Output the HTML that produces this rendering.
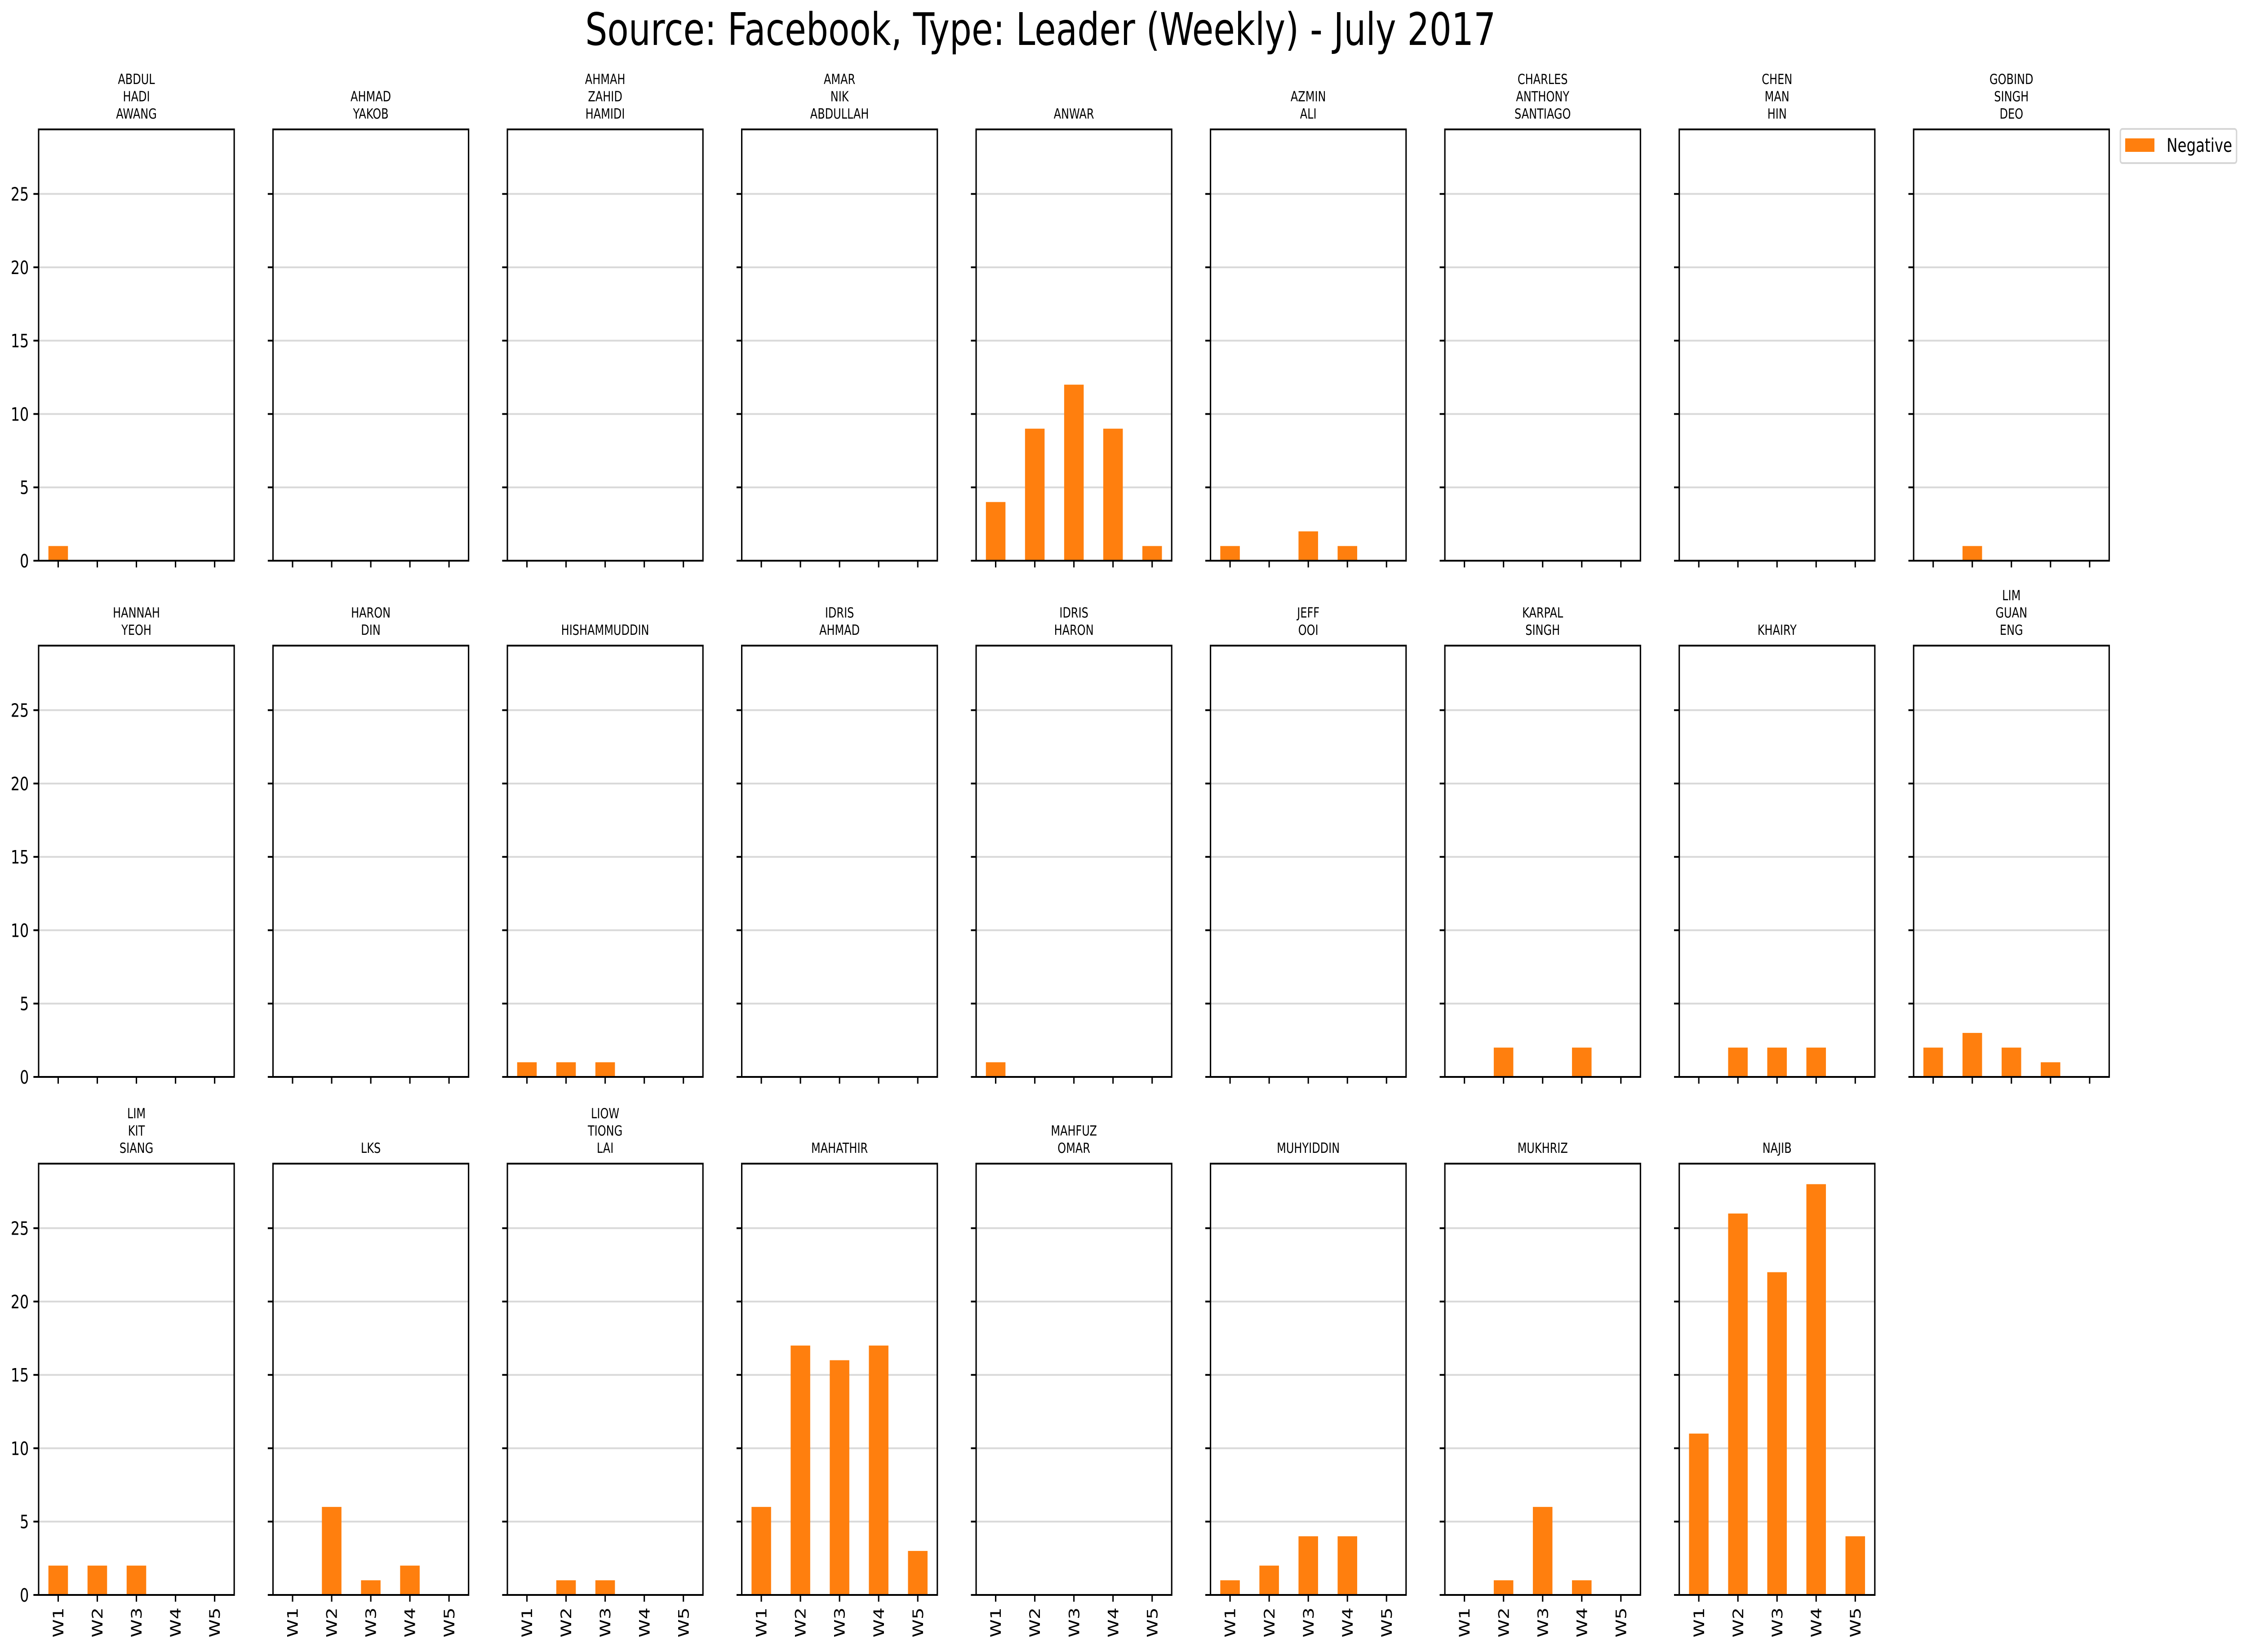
<!DOCTYPE html>
<html><head><meta charset="utf-8">
<style>
html,body{margin:0;padding:0;background:#fff;overflow:hidden;width:100%;height:100%;}
svg{display:block;width:100vw;height:100vh;font-family:"DejaVu Sans","Liberation Sans",sans-serif;}
</style></head>
<body>
<svg id="chart" viewBox="0 0 6457 3677" preserveAspectRatio="none" xmlns="http://www.w3.org/2000/svg">
<text x="2990" y="100" font-size="100" text-anchor="middle">Source: Facebook, Type: Leader (Weekly) - July 2017</text>
<g>
<rect x="6093" y="287" width="334" height="76" rx="6" fill="#fff" stroke="#d6d6d6" stroke-width="4"/>
<rect x="6107" y="308" width="84" height="30" fill="#ff7f0e"/>
<text x="6226" y="338" font-size="42">Negative</text>
</g>
</svg>
<script>
const names = [["ABDUL","HADI","AWANG"],["AHMAD","YAKOB"],["AHMAH","ZAHID","HAMIDI"],["AMAR","NIK","ABDULLAH"],["ANWAR"],["AZMIN","ALI"],["CHARLES","ANTHONY","SANTIAGO"],["CHEN","MAN","HIN"],["GOBIND","SINGH","DEO"],
["HANNAH","YEOH"],["HARON","DIN"],["HISHAMMUDDIN"],["IDRIS","AHMAD"],["IDRIS","HARON"],["JEFF","OOI"],["KARPAL","SINGH"],["KHAIRY"],["LIM","GUAN","ENG"],
["LIM","KIT","SIANG"],["LKS"],["LIOW","TIONG","LAI"],["MAHATHIR"],["MAHFUZ","OMAR"],["MUHYIDDIN"],["MUKHRIZ"],["NAJIB"]];
const weeks = ["W1","W2","W3","W4","W5"];
const negative = [
[1,0,0,0,0],[0,0,0,0,0],[0,0,0,0,0],[0,0,0,0,0],[4,9,12,9,1],[1,0,2,1,0],[0,0,0,0,0],[0,0,0,0,0],[0,1,0,0,0],
[0,0,0,0,0],[0,0,0,0,0],[1,1,1,0,0],[0,0,0,0,0],[1,0,0,0,0],[0,0,0,0,0],[0,2,0,2,0],[0,2,2,2,0],[2,3,2,1,0],
[2,2,2,0,0],[0,6,1,2,0],[0,1,1,0,0],[6,17,16,17,3],[0,0,0,0,0],[1,2,4,4,0],[0,1,6,1,0],[11,26,22,28,4]];
const yTicks = [0,5,10,15,20,25];
const yMax = 29.4;

const NS="http://www.w3.org/2000/svg";
const svg=document.getElementById('chart');
function mk(tag,attrs,parent){const e=document.createElementNS(NS,tag);for(const k in attrs)e.setAttribute(k,attrs[k]);parent.appendChild(e);return e;}
const W=562,H=960,tops=[288,1437,2590];
names.forEach((nm,i)=>{
  const col=i%9,row=Math.floor(i/9);
  const L=111+673.5*col,T=tops[row],B=T+H;
  const xs=k=>L+W*(k+0.5)/5;
  const ys=v=>B-H*v/yMax;
  const g=mk('g',{},svg);
  
  
  yTicks.forEach(t=>{
    if(t>0){const gl=mk('line',{x1:L,x2:L+W,y1:ys(t),y2:ys(t),stroke:'#d9d9d9','stroke-width':4},g);
    
    }
    const tk=mk('line',{x1:L-15,x2:L,y1:ys(t),y2:ys(t),stroke:'#000','stroke-width':4},g);
    
    
    if(col===0){const tl=mk('text',{x:L-28,y:ys(t)+15,'font-size':41,'text-anchor':'end'},g);tl.textContent=t;
    
    }
  });
  negative[i].forEach((v,k)=>{
    if(v>0){const b=mk('rect',{x:xs(k)-W*0.05,y:ys(v),width:W*0.1,height:ys(0)-ys(v),fill:'#ff7f0e'},g);
    
    }
    const tk=mk('line',{x1:xs(k),x2:xs(k),y1:B,y2:B+15,stroke:'#000','stroke-width':4},g);
    
    
    if(row===2){const tl=mk('text',{x:0,y:0,'font-size':41,'text-anchor':'end',transform:`translate(${xs(k)+15},${B+28}) rotate(-90)`},g);tl.textContent=weeks[k];
    
    }
  });
  const fr=mk('rect',{x:L,y:T,width:W,height:H,fill:'none',stroke:'#000','stroke-width':4},g);
  
  
  const n=nm.length;
  nm.forEach((line,j)=>{
    const tt=mk('text',{x:L+W/2,y:T-24-(n-1-j)*38.5,'font-size':31,'text-anchor':'middle'},g);
    tt.textContent=line;
    
    
  });
});
</script>
</body></html>
